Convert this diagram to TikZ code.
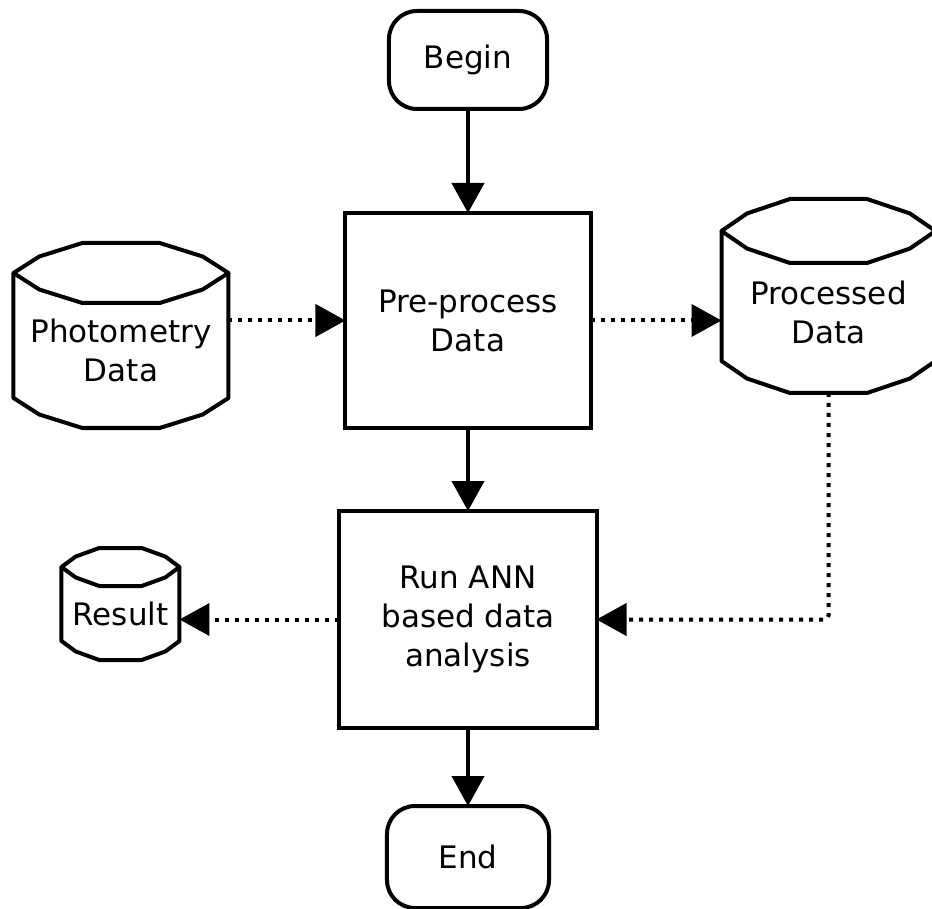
\documentclass[tikz,border=0pt]{standalone}
\usepackage{fontspec}
\setmainfont{DejaVu Sans}
\usetikzlibrary{arrows.meta,positioning,calc}

% outline of a data store drawn round its body node: #1 node, #2 depth of the end faces
\newcommand{\drumoutline}[2]{%
  \draw[storeedge] ($(#1.north west)+(0,#2)$) -- ($(#1.north west)!.12!(#1.north east)+(0,1.55*#2)$)
    -- ($(#1.north west)!.32!(#1.north east)+(0,2*#2)$) -- ($(#1.north west)!.68!(#1.north east)+(0,2*#2)$)
    -- ($(#1.north west)!.88!(#1.north east)+(0,1.55*#2)$) -- ($(#1.north east)+(0,#2)$)
    -- ($(#1.north west)!.88!(#1.north east)+(0,.45*#2)$) -- ($(#1.north west)!.68!(#1.north east)$)
    -- ($(#1.north west)!.32!(#1.north east)$) -- ($(#1.north west)!.12!(#1.north east)+(0,.45*#2)$) -- cycle;
  \draw[storeedge] ($(#1.north west)+(0,#2)$) -- (#1.south west)
    -- ($(#1.south west)!.12!(#1.south east)+(0,-.55*#2)$) -- ($(#1.south west)!.32!(#1.south east)+(0,-#2)$)
    -- ($(#1.south west)!.68!(#1.south east)+(0,-#2)$) -- ($(#1.south west)!.88!(#1.south east)+(0,-.55*#2)$)
    -- (#1.south east) -- ($(#1.north east)+(0,#2)$);
}

\begin{document}
\begin{tikzpicture}[
  font=\fontsize{15.5}{19.5}\selectfont,
  box/.style={draw,line width=2pt,align=center,inner sep=0pt,outer sep=0pt},
  term/.style={draw,line width=2pt,rounded corners=14pt,align=center,minimum width=79pt,minimum height=49pt,inner sep=0pt,outer sep=0pt},
  store/.style={align=center,inner sep=0pt,outer sep=0pt},
  storeedge/.style={line width=2pt,line join=round},
  flow/.style={-{Triangle[length=15pt,width=16pt]},line width=2pt},
  link/.style={-{Triangle[length=15pt,width=16pt]},line width=2pt,dash pattern=on 2pt off 3pt,rounded corners=2pt}
]
\useasboundingbox (-234pt,30pt) rectangle (232pt,-424.5pt);
\node[term] (begin) at (0,0) {Begin};
\node[box,minimum width=122.5pt,minimum height=107.5pt,below=52pt of begin] (pre) {Pre-process\\Data};
\node[box,minimum width=128.5pt,minimum height=108.5pt,below=41.5pt of pre] (run) {Run ANN\\based data\\analysis};
\node[term,minimum width=81pt,minimum height=51pt,below=39pt of run] (end) {End};

\node[store,minimum width=107.5pt,minimum height=47.5pt,left=58.5pt of pre,yshift=-15pt] (photo) {Photometry\\Data};
\node[store,minimum width=107pt,minimum height=49pt,right=65.5pt of pre,yshift=4.25pt] (proc) {Processed\\Data};
\node[store,minimum width=59pt,minimum height=27.5pt,left=80pt of run,yshift=3pt] (res) {Result};
\drumoutline{photo}{15pt}
\drumoutline{proc}{16pt}
\drumoutline{res}{9.5pt}

\draw[flow] (begin) -- (pre);
\draw[flow] (pre) -- (run);
\draw[flow] (run) -- (end);
\draw[link] (photo.east |- pre.west) -- (pre.west);
\draw[link] (pre.east) -- (pre.east -| proc.west);
\coordinate (procfoot) at ($(proc.south)+(0,-16pt)$);
\draw[link] (procfoot) |- (run.east);
\draw[link] (run.west) -- (run.west -| res.east);
\end{tikzpicture}
\end{document}
